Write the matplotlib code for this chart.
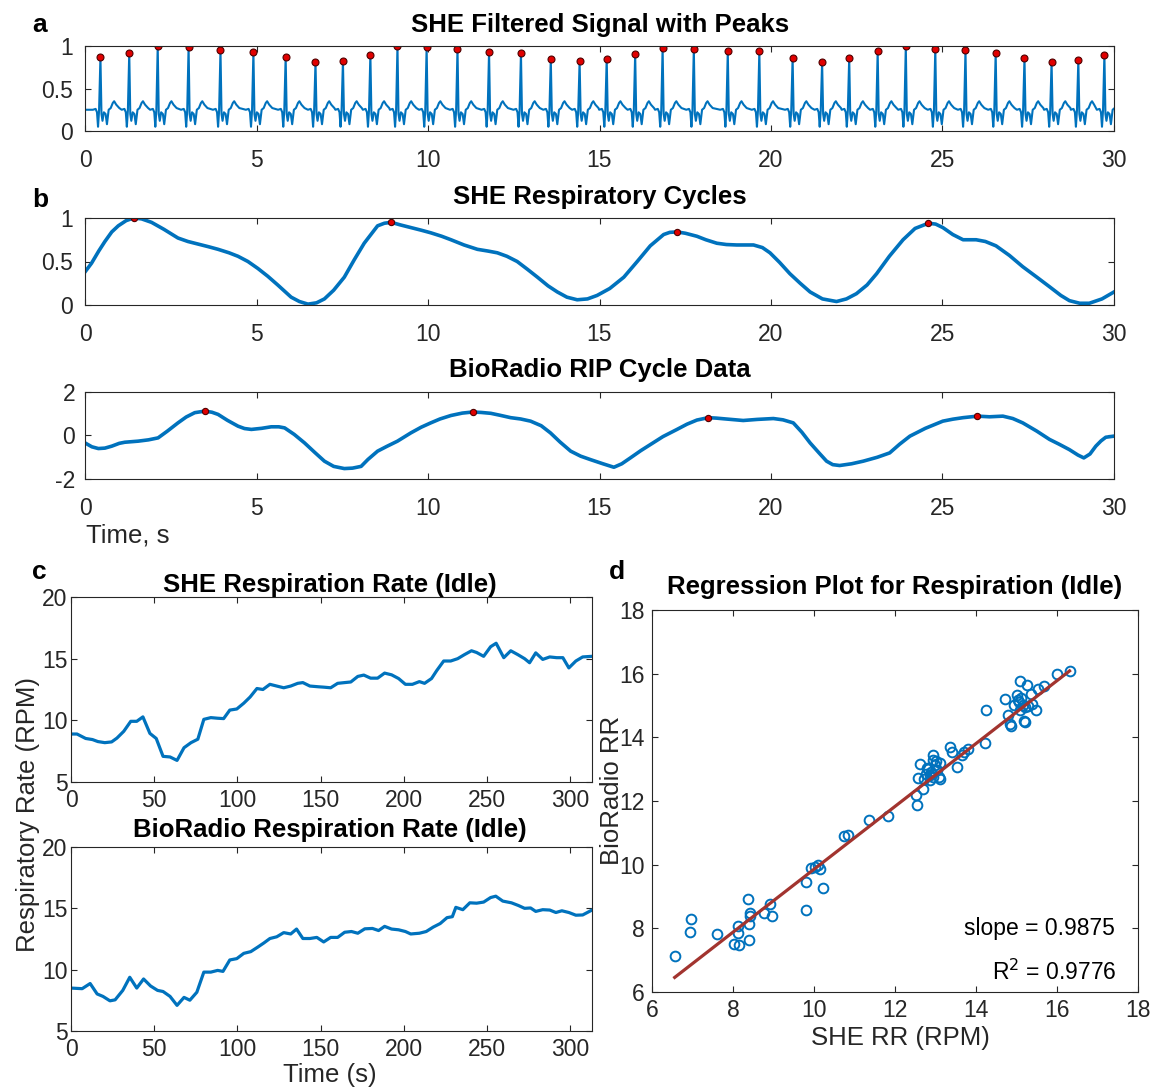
import numpy as np
import matplotlib
matplotlib.use('Agg')
import matplotlib.pyplot as plt

plt.rcParams['font.family'] = ['Liberation Sans', 'DejaVu Sans']
plt.rcParams['axes.unicode_minus'] = False

W, H = 1152, 1088
BLUE = '#0072BD'
DARK = '#262626'

# --- panel a: ECG R-peaks (time s, normalised height) and one beat shape
peak_t = [0.45, 1.29, 2.12, 3.02, 3.95, 4.91, 5.85, 6.72, 7.52, 8.32, 9.11, 9.96,
          10.86, 11.78, 12.71, 13.58, 14.42, 15.21, 16.04, 16.84, 17.75, 18.74,
          19.66, 20.63, 21.49, 22.28, 23.11, 23.93, 24.79, 25.67, 26.55, 27.39,
          28.18, 28.96, 29.72]
peak_h = [0.87, 0.92, 1.0, 0.99, 0.955, 0.93, 0.875, 0.81, 0.82, 0.90, 1.0, 0.985,
          0.97, 0.935, 0.915, 0.85, 0.82, 0.85, 0.91, 0.98, 0.97, 0.94, 0.94,
          0.86, 0.81, 0.86, 0.94, 1.0, 0.97, 0.95, 0.92, 0.86, 0.81, 0.83, 0.90]
beat_dt = [-0.22, -0.14, -0.10, -0.07, -0.04, 0.0, 0.03, 0.06, 0.10, 0.15, 0.19,
           0.24, 0.30, 0.36, 0.40, 0.46, 0.55]
beat_v = [0.25, 0.26, 0.22, 0.05, 0.24, None, 0.20, 0.12, 0.22, 0.20, 0.08,
          0.25, 0.27, 0.33, 0.35, 0.31, 0.27]

# --- panel b: SHE respiratory cycle
she_cyc_t = [0, 0.19, 0.4, 0.58, 0.78, 0.97, 1.2, 1.42, 1.65, 1.94, 2.3, 2.71,
             3.0, 3.3, 3.6, 3.88, 4.2, 4.46, 4.75, 5.04, 5.33, 5.62, 6.01, 6.25,
             6.5, 6.75, 6.98, 7.25, 7.56, 7.85, 8.14, 8.53, 8.73, 8.93, 9.2, 9.5,
             9.8, 10.08, 10.4, 10.67, 11.05, 11.44, 11.75, 12.02, 12.3, 12.6,
             12.9, 13.19, 13.5, 13.77, 14.05, 14.35, 14.65, 14.93, 15.3, 15.71,
             16.1, 16.48, 16.87, 17.05, 17.26, 17.5, 17.84, 18.1, 18.42, 18.7,
             19.0, 19.25, 19.49, 19.75, 19.97, 20.25, 20.55, 20.85, 21.14, 21.5,
             21.91, 22.2, 22.49, 22.8, 23.08, 23.45, 23.85, 24.2, 24.59, 24.8,
             25.01, 25.3, 25.6, 25.98, 26.25, 26.56, 26.95, 27.34, 27.75, 28.12,
             28.45, 28.7, 29.0, 29.28, 29.65, 30]
she_cyc_v = [0.38, 0.48, 0.62, 0.73, 0.84, 0.91, 0.97, 1.0, 0.99, 0.95, 0.87,
             0.77, 0.73, 0.70, 0.67, 0.64, 0.60, 0.56, 0.50, 0.42, 0.33, 0.23,
             0.09, 0.04, 0.01, 0.025, 0.07, 0.17, 0.32, 0.52, 0.71, 0.91, 0.94,
             0.95, 0.92, 0.89, 0.86, 0.83, 0.79, 0.75, 0.69, 0.64, 0.62, 0.60,
             0.56, 0.50, 0.41, 0.32, 0.22, 0.15, 0.09, 0.06, 0.07, 0.11, 0.19,
             0.32, 0.50, 0.68, 0.81, 0.835, 0.84, 0.825, 0.79, 0.75, 0.71, 0.695,
             0.69, 0.69, 0.69, 0.66, 0.60, 0.49, 0.36, 0.25, 0.15, 0.07, 0.04,
             0.07, 0.13, 0.23, 0.36, 0.56, 0.75, 0.88, 0.94, 0.93, 0.89, 0.81,
             0.75, 0.75, 0.73, 0.68, 0.57, 0.44, 0.32, 0.21, 0.11, 0.05, 0.02,
             0.02, 0.07, 0.15]
she_pk_t = [1.42, 8.93, 17.26, 24.59]
she_pk_v = [1.0, 0.95, 0.84, 0.94]

# --- BioRadio RIP
rip_t = [0, 0.2, 0.39, 0.58, 0.78, 1.0, 1.16, 1.55, 1.85, 2.13, 2.4, 2.71, 2.95,
         3.2, 3.49, 3.7, 3.88, 4.15, 4.46, 4.65, 4.85, 5.15, 5.43, 5.65, 5.82,
         6.1, 6.4, 6.7, 6.98, 7.25, 7.56, 7.8, 8.05, 8.25, 8.53, 8.8, 9.11, 9.5,
         9.8, 10.08, 10.35, 10.67, 11.0, 11.3, 11.55, 11.83, 12.1, 12.41, 12.7,
         12.99, 13.3, 13.57, 13.85, 14.16, 14.45, 14.74, 15.1, 15.42, 15.65,
         15.9, 16.2, 16.48, 16.85, 17.26, 17.55, 17.84, 18.17, 18.4, 18.61,
         18.9, 19.19, 19.6, 20.07, 20.35, 20.65, 20.9, 21.14, 21.4, 21.62, 21.8,
         22.0, 22.35, 22.69, 23.1, 23.46, 23.75, 24.05, 24.5, 25.01, 25.3, 25.6,
         26.02, 26.37, 26.76, 27.05, 27.34, 27.75, 28.12, 28.4, 28.7, 28.95,
         29.12, 29.3, 29.47, 29.62, 29.76, 30]
rip_v = [-0.34, -0.52, -0.6, -0.58, -0.49, -0.36, -0.31, -0.26, -0.2, -0.11,
         0.2, 0.58, 0.85, 1.05, 1.12, 1.07, 0.97, 0.7, 0.43, 0.32, 0.28, 0.33,
         0.40, 0.40, 0.35, 0.05, -0.34, -0.78, -1.18, -1.42, -1.52, -1.5, -1.42,
         -1.1, -0.72, -0.5, -0.26, 0.12, 0.38, 0.58, 0.76, 0.92, 1.03, 1.08,
         1.06, 1.02, 0.93, 0.82, 0.76, 0.66, 0.45, 0.12, -0.3, -0.72, -0.95,
         -1.11, -1.3, -1.46, -1.3, -1.03, -0.7, -0.42, -0.05, 0.28, 0.52, 0.71,
         0.82, 0.8, 0.77, 0.73, 0.69, 0.74, 0.78, 0.72, 0.58, 0.15, -0.34, -0.8,
         -1.18, -1.34, -1.38, -1.3, -1.18, -1.0, -0.8, -0.4, -0.03, 0.33, 0.66,
         0.75, 0.82, 0.89, 0.86, 0.89, 0.78, 0.58, 0.2, -0.18, -0.4, -0.65,
         -0.9, -1.03, -0.85, -0.49, -0.25, -0.08, -0.03]
rip_pk_t = [3.49, 11.3, 18.17, 26.02]
rip_pk_v = [1.12, 1.08, 0.82, 0.89]

# --- panel c: respiration rate over time
she_rr_t = [0, 3.6, 8.8, 12.9, 16.1, 20.3, 24.4, 27.6, 31.7, 35.9, 39.5, 43.2,
            47.4, 51.2, 55.3, 59.5, 63.7, 67.9, 72.1, 76.2, 79.8, 84.0, 88.1,
            91.7, 95.4, 99.6, 103.8, 107.6, 111.7, 115.3, 119.5, 123.6, 127.8,
            132.0, 136.2, 139.3, 143.5, 148.7, 151.8, 156.0, 160.2, 164.4, 168.1,
            172.3, 175.9, 180.0, 184.2, 188.4, 192.6, 196.8, 200.9, 205.1, 209.3,
            212.4, 216.6, 219.7, 223.9, 228.1, 232.3, 236.4, 240.6, 243.7, 247.9,
            252.1, 255.4, 260.0, 264.2, 268.4, 272.5, 275.5, 279.2, 283.4, 287.6,
            291.8, 295.5, 299.1, 303.3, 307.4, 313.0]
she_rr_v = [8.89, 8.89, 8.53, 8.44, 8.28, 8.19, 8.25, 8.56, 9.11, 9.92, 9.92,
            10.28, 8.94, 8.53, 7.08, 7.03, 6.75, 7.78, 8.19, 8.47, 10.08, 10.22,
            10.17, 10.14, 10.83, 10.92, 11.39, 11.89, 12.58, 12.5, 12.92, 12.78,
            12.64, 12.78, 13.0, 13.06, 12.78, 12.72, 12.69, 12.64, 13.0, 13.06,
            13.11, 13.56, 13.67, 13.42, 13.42, 13.83, 13.69, 13.39, 12.92, 12.92,
            13.14, 13.0, 13.39, 14.03, 14.81, 14.81, 15.0, 15.33, 15.64, 15.5,
            15.19, 15.97, 16.25, 15.08, 15.64, 15.33, 15.0, 14.67, 15.47, 14.94,
            15.14, 15.08, 15.08, 14.25, 14.81, 15.14, 15.19]
bio_rr_t = [0, 6.7, 11.5, 15.7, 19.2, 23.4, 26.5, 31.1, 35.3, 39.5, 43.6, 47.8,
            52.0, 55.3, 59.5, 63.7, 67.9, 71.4, 75.6, 79.8, 84.0, 88.1, 91.3,
            95.4, 99.6, 103.8, 108.0, 112.2, 115.9, 119.5, 123.6, 127.8, 132.0,
            135.5, 139.3, 143.5, 147.7, 151.8, 156.0, 160.2, 164.4, 168.5, 172.3,
            176.5, 181.1, 184.8, 188.4, 192.6, 196.8, 200.9, 204.1, 209.3, 213.4,
            217.6, 221.8, 225.9, 229.1, 231.2, 235.4, 239.6, 243.7, 247.9, 252.1,
            255.2, 259.4, 264.6, 268.8, 272.5, 276.1, 279.2, 283.4, 287.6, 291.3,
            294.9, 299.1, 303.3, 307.4, 313.0]
bio_rr_v = [8.5, 8.45, 8.87, 8.02, 7.82, 7.46, 7.54, 8.31, 9.38, 8.5, 9.24, 8.67,
            8.31, 8.22, 7.82, 7.09, 7.74, 7.51, 8.16, 9.8, 9.8, 9.94, 9.86, 10.79,
            10.9, 11.33, 11.47, 11.84, 12.18, 12.54, 12.68, 13.02, 12.91, 13.31,
            12.54, 12.54, 12.63, 12.26, 12.63, 12.63, 13.05, 13.11, 12.97, 13.33,
            13.36, 13.19, 13.53, 13.31, 13.25, 13.11, 12.91, 12.97, 13.11, 13.47,
            13.76, 14.24, 14.32, 15.08, 14.89, 15.45, 15.42, 15.51, 15.88, 15.99,
            15.59, 15.45, 15.23, 15.0, 15.03, 14.75, 14.89, 14.86, 14.66, 14.8,
            14.66, 14.44, 14.46, 14.86]

# --- panel d: regression
scat_she = [6.56, 6.96, 6.93, 7.60, 8.02, 8.16, 8.12, 8.12, 8.40, 8.39, 8.36, 8.43,
            8.43, 8.77, 8.91, 8.96, 9.80, 9.80, 10.23, 9.93, 10.03, 10.10, 10.16,
            10.73, 10.83, 11.37, 11.83, 12.52, 12.54, 12.58, 12.62, 12.69, 12.72,
            12.77, 12.81, 12.87, 12.91, 12.94, 12.95, 12.99, 13.04, 13.08, 13.10,
            12.95, 13.12, 12.86, 13.37, 13.41, 13.53, 13.65, 13.70, 13.80, 14.21,
            14.25, 14.71, 14.79, 14.85, 14.86, 14.93, 15.01, 15.04, 15.09, 15.09,
            15.15, 15.18, 15.22, 15.26, 15.28, 15.36, 15.38, 15.49, 15.52, 15.67,
            16.0, 16.31, 12.80, 13.00, 12.90, 15.05, 15.20, 15.12]
scat_bio = [7.13, 8.30, 7.88, 7.81, 7.52, 7.49, 8.06, 7.85, 7.64, 8.13, 8.92, 8.48,
            8.38, 8.49, 8.77, 8.40, 8.57, 9.46, 9.28, 9.90, 9.93, 10.0, 9.87,
            10.89, 10.92, 11.39, 11.52, 12.18, 11.88, 12.73, 13.15, 12.37, 12.70,
            12.84, 13.02, 12.65, 12.86, 13.43, 13.30, 13.12, 12.96, 12.75, 12.70,
            12.75, 13.19, 12.81, 13.70, 13.54, 13.07, 13.43, 13.54, 13.64, 13.82,
            14.85, 15.19, 14.71, 14.41, 14.35, 15.01, 15.32, 15.16, 15.76, 14.85,
            15.03, 14.51, 14.48, 15.65, 14.97, 15.37, 15.06, 14.85, 15.53, 15.60,
            16.0, 16.08, 13.05, 13.25, 12.90, 15.10, 14.95, 15.25]
slope, intercept = 0.9875, -0.02


def px_axes(fig, l, t, r, b):
    return fig.add_axes([l / W, 1 - b / H, (r - l) / W, (b - t) / H])


def ftext(x, y, s, **kw):
    fig.text(x / W, 1 - y / H, s, **kw)


def style(ax, xpad, ypad):
    for sp in ax.spines.values():
        sp.set_color(DARK)
        sp.set_linewidth(0.8)
    ax.tick_params(direction='in', top=True, right=True, length=4, width=0.8,
                   color=DARK, labelcolor=DARK, labelsize=16.5)
    ax.tick_params(axis='x', pad=xpad)
    ax.tick_params(axis='y', pad=ypad)


fig = plt.figure(figsize=(W / 100, H / 100), dpi=100)

# build ECG trace from the beat shape
ecg_t, ecg_v = [0.0], [0.25]
for i, (tp, h) in enumerate(zip(peak_t, peak_h)):
    nxt = peak_t[i + 1] + beat_dt[0] if i + 1 < len(peak_t) else 31
    for dt, v in zip(beat_dt, beat_v):
        if tp + dt < nxt:
            ecg_t.append(tp + dt)
            ecg_v.append(h if v is None else v)

dot = dict(ls='none', marker='o', mfc='#E00000', mec='#500000', mew=0.8)

ax = px_axes(fig, 85, 46, 1114, 131)
ax.plot(ecg_t, ecg_v, color=BLUE, lw=1.5)
ax.plot(peak_t, peak_h, ms=5, **dot)
ax.set_xlim(0, 30)
ax.set_ylim(0, 1.0)
ax.set_xticks(range(0, 31, 5))
ax.set_yticks([0, 0.5, 1])
ax.set_yticklabels(['0', '0.5', '1'])
style(ax, 13, 9)

ax = px_axes(fig, 85, 218, 1114, 305)
ax.plot(she_cyc_t, she_cyc_v, color=BLUE, lw=2.6)
ax.plot(she_pk_t, she_pk_v, ms=4.5, **dot)
ax.set_xlim(0, 30)
ax.set_ylim(0, 1.0)
ax.set_xticks(range(0, 31, 5))
ax.set_yticks([0, 0.5, 1])
ax.set_yticklabels(['0', '0.5', '1'])
style(ax, 13, 9)

ax = px_axes(fig, 85, 392, 1114, 479)
ax.plot(rip_t, rip_v, color=BLUE, lw=2.6)
ax.plot(rip_pk_t, rip_pk_v, ms=4.5, **dot)
ax.set_xlim(0, 30)
ax.set_ylim(-2, 2)
ax.set_xticks(range(0, 31, 5))
ax.set_yticks([-2, 0, 2])
style(ax, 13, 7)

for (top, bot), (tt, vv) in zip([(597, 782), (847, 1031)],
                                [(she_rr_t, she_rr_v), (bio_rr_t, bio_rr_v)]):
    ax = px_axes(fig, 71, top, 592, bot)
    ax.plot(tt, vv, color=BLUE, lw=2.3)
    ax.set_xlim(0, 313)
    ax.set_ylim(5, 20)
    ax.set_xticks(range(0, 301, 50))
    ax.set_yticks([5, 10, 15, 20])
    style(ax, 5, 2.5)

ax = px_axes(fig, 652, 610, 1138, 992)
ax.plot(scat_she, scat_bio, ls='none', marker='o', mfc='none', mec=BLUE,
        ms=7, mew=1.4)
xs = np.array([min(scat_she), max(scat_she)])
ax.plot(xs, slope * xs + intercept, color='#A2342F', lw=2.3)
ax.set_xlim(6, 18)
ax.set_ylim(6, 18)
ax.set_xticks(range(6, 19, 2))
ax.set_yticks(range(6, 19, 2))
style(ax, 5, 5)

# titles, panel letters and labels
tkw = dict(ha='center', va='center', fontsize=18.5, fontweight='bold', color='black')
ftext(600, 25, 'SHE Filtered Signal with Peaks', **tkw)
ftext(600, 197, 'SHE Respiratory Cycles', **tkw)
ftext(600, 370, 'BioRadio RIP Cycle Data', **tkw)
ftext(330, 585, 'SHE Respiration Rate (Idle)', **tkw)
ftext(330, 830, 'BioRadio Respiration Rate (Idle)', **tkw)
ftext(895, 587, 'Regression Plot for Respiration (Idle)', **tkw)

lkw = dict(va='center', fontsize=19, fontweight='bold', color='black')
ftext(32, 25, 'a', **lkw)
ftext(32, 200, 'b', **lkw)
ftext(32, 572, 'c', **lkw)
ftext(609, 572, 'd', **lkw)

akw = dict(fontsize=18.5, color=DARK, va='center')
ftext(86, 535, 'Time, s', ha='left', **akw)
ftext(28, 815, 'Respiratory Rate (RPM)', ha='center', rotation=90, **akw)
ftext(330, 1075, 'Time (s)', ha='center', **akw)
ftext(900, 1038, 'SHE RR (RPM)', ha='center', **akw)
ftext(612, 790, 'BioRadio RR', ha='center', rotation=90, **akw)

skw = dict(fontsize=16.5, color='black', va='center', ha='right')
ftext(1115, 928, 'slope = 0.9875', **skw)
ftext(1117, 972, 'R$^2$ = 0.9776', **skw)

fig.savefig('out.png', dpi=100)
